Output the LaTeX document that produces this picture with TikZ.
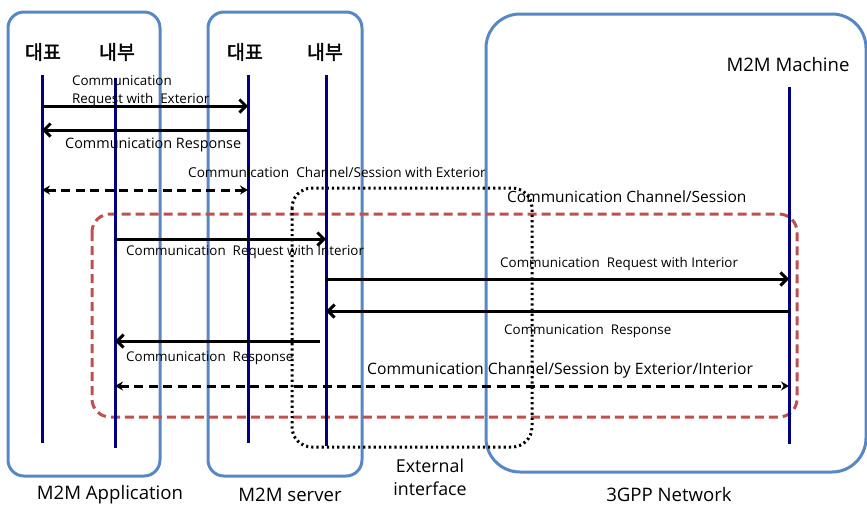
\documentclass[tikz,border=0pt]{standalone}
\usepackage{fontspec}
\setmainfont{Open Sans}
\newfontfamily\kr[AutoFakeBold=2]{Noto Sans CJK KR}
\usetikzlibrary{arrows.meta, positioning}

\definecolor{boxblue}{RGB}{88,136,196}
\definecolor{lifenavy}{RGB}{0,0,128}
\definecolor{zonered}{RGB}{192,80,77}

\tikzset{
  entity/.style={draw=boxblue, line width=3pt, rounded corners=16pt},
  lifeline/.style={draw=lifenavy, line width=3pt},
  msg/.style={line width=3pt, -{Straight Barb[length=6.5pt, width=13pt]}},
  chan/.style={line width=3pt, dash pattern=on 9pt off 5.5pt,
    {Stealth[length=8pt, width=9pt]}-{Stealth[length=8pt, width=9pt]}},
  lbl/.style={anchor=west, inner sep=0pt, font=\fontsize{13.4}{18}\selectfont},
  biglbl/.style={inner sep=0pt, font=\fontsize{18.6}{22}\selectfont},
  head/.style={inner sep=0pt, font=\fontsize{19.5}{22}\selectfont\kr\bfseries}
}

\begin{document}
\begin{tikzpicture}[x=1pt, y=-1pt]

    \useasboundingbox (0,0) rectangle (867,507);

    % entity boxes
    \draw[entity] (8,12) rectangle (160,476);
    \draw[entity] (208,12) rectangle (362,476);
    \draw[entity, rounded corners=34pt] (486,14) rectangle (866,472);

    % interior zone and external interface
    \draw[zonered, line width=3pt, dash pattern=on 9pt off 5pt, rounded corners=18pt]
      (92,214) rectangle (797,417);
    \draw[line width=3pt, dash pattern=on 2.2pt off 3pt, rounded corners=20pt]
      (292,188) rectangle (532,447);

    % lifeline heads
    \node[head] (appRhead) at (43,52) {대표};
    \node[head] (appIhead) at (117,52) {내부};
    \node[head] (srvRhead) at (245,52) {대표};
    \node[head] (srvIhead) at (325,52) {내부};
    \node[biglbl] (machhead) at (788,65) {M2M Machine};

    \coordinate (appR) at (42,75);
    \coordinate (appI) at (115,78);
    \coordinate (srvR) at (248,75);
    \coordinate (srvI) at (326,75);
    \coordinate (mach) at (789,87);

    \draw[lifeline] (appR) -- (appR |- 0,443);
    \draw[lifeline] (appI) -- (appI |- 0,448);
    \draw[lifeline] (srvR) -- (srvR |- 0,443);
    \draw[lifeline] (srvI) -- (srvI |- 0,446);
    \draw[lifeline] (mach) -- (mach |- 0,444);

    % exterior messages
    \draw[msg] (appR |- 0,106) -- (srvR |- 0,106);
    \node[lbl, align=left] (reqext) at (72,91) {Communication\\Request with\ \ Exterior};
    \draw[msg] (srvR |- 0,130) -- (appR |- 0,130);
    \node[lbl, font=\fontsize{14.4}{17}\selectfont] (respext) at (65,145) {Communication Response};
    \draw[chan] (appR |- 0,190) -- (srvR |- 0,190);
    \node[lbl, font=\fontsize{13.6}{17}\selectfont] (chanext) at (188,172) {Communication\ \ Channel/Session with Exterior};

    % interior messages
    \node[lbl, font=\fontsize{15.5}{18}\selectfont] (zonelbl) at (507,197) {Communication Channel/Session};
    \draw[msg] (appI |- 0,239) -- (srvI |- 0,239);
    \node[lbl] (reqint) at (126,252) {Communication\ \ Request with Interior};
    \draw[msg] (srvI |- 0,279) -- (mach |- 0,279);
    \node[lbl] (reqmach) at (500,264) {Communication\ \ Request with Interior};
    \draw[msg] (mach |- 0,311) -- (srvI |- 0,311);
    \node[lbl] (respmach) at (504,331) {Communication\ \ Response};
    \draw[msg] ([xshift=-6pt]srvI |- 0,341) -- (appI |- 0,341);
    \node[lbl] (respint) at (126,358) {Communication\ \ Response};
    \draw[chan] (appI |- 0,386) -- (mach |- 0,386);
    \node[lbl, font=\fontsize{15.7}{18}\selectfont] (chanint) at (367,370) {Communication Channel/Session by Exterior/Interior};

    % entity names
    \node[biglbl] (appname) at (110,495) {M2M Application};
    \node[biglbl] (srvname) at (290,495) {M2M server};
    \node[biglbl, align=center, font=\fontsize{17.8}{23}\selectfont] (extname) at (430,477) {External\\interface};
    \node[biglbl] (netname) at (669,495) {3GPP Network};

\end{tikzpicture}
\end{document}
